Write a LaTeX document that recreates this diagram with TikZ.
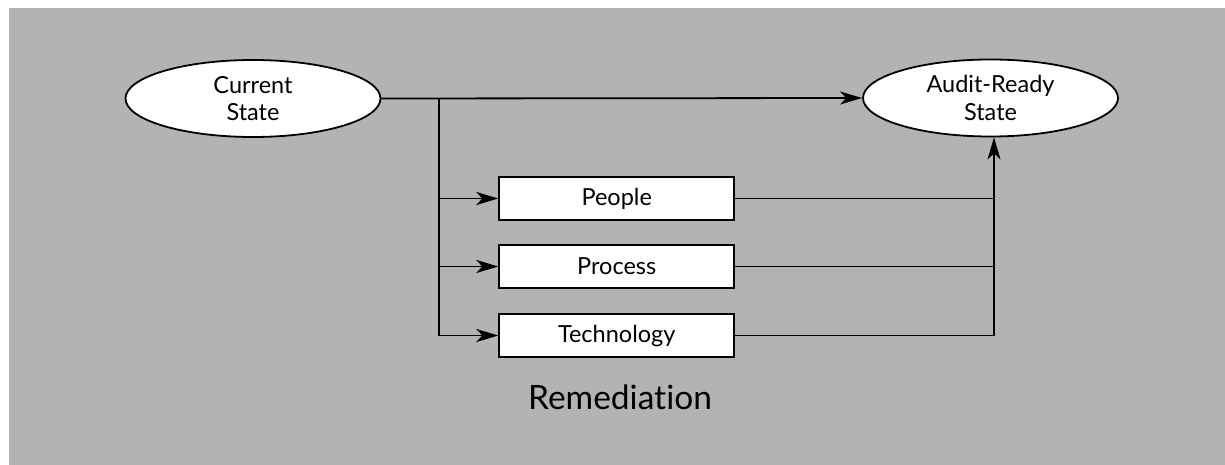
\documentclass[tikz,border=0pt]{standalone}
\usepackage{fontspec}
\setmainfont{Lato}[Ligatures=NoCommon]
\usetikzlibrary{arrows.meta,shapes.geometric}
\definecolor{panelgray}{HTML}{B3B3B3}
\begin{document}
\begin{tikzpicture}[x=1pt,y=-1pt,
  every node/.style={font=\fontsize{23.5}{27.5}\selectfont, text=black},
  state/.style={ellipse, draw, fill=white, line width=1.8pt,
    minimum width=255pt, minimum height=77pt, inner sep=0pt, align=center},
  pillar/.style={rectangle, draw, fill=white, line width=1.8pt,
    minimum width=235pt, minimum height=43pt, inner sep=0pt},
  link/.style={line width=1.8pt},
  arr/.style={link, -{Stealth[length=22pt,width=13pt,inset=6pt]}}]
\useasboundingbox (0,0) rectangle (1225,465);
\fill[panelgray] (9,8) rectangle (1225,465);

% start and goal states
\node[state] (cur) at (253,98.5) {Current\\State};
\node[state] (aud) at (990.5,98) {Audit-Ready\\State};

% remediation tracks
\node[pillar] (ppl) at (616.7,198.5) {People};
\node[pillar] (prc) at (616.7,266.5) {Process};
\node[pillar] (tec) at (616.7,335.5) {Technology};
\node[font=\fontsize{33.5}{40}\selectfont, anchor=base] (rem) at (620,409) {Remediation};

% fan-out from the current state
\coordinate (fork) at (439,98.5);
\coordinate (forkend) at (fork |- tec.west);
\draw[arr] (cur.east) -- (aud.west);
\draw[link] (fork) -- (forkend);
\draw[arr] (fork |- ppl.west) -- (ppl.west);
\draw[arr] (fork |- prc.west) -- (prc.west);
\draw[arr] (forkend) -- (tec.west);

% merge into the goal state
\coordinate (join) at (994,335.5);
\draw[link] (ppl.east) -- (ppl.east -| join);
\draw[link] (prc.east) -- (prc.east -| join);
\draw[link] (tec.east) -- (join);
\draw[arr] (join) -- (join |- aud.south);
\end{tikzpicture}
\end{document}
